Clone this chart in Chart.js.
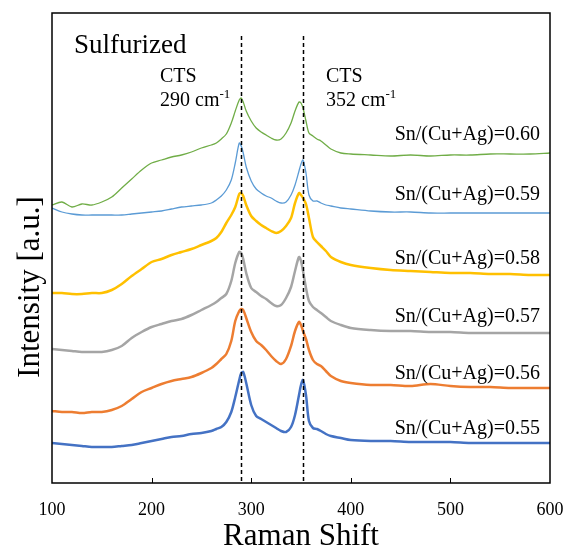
<!DOCTYPE html>
<html>
<head>
<meta charset="utf-8">
<script src="https://cdn.jsdelivr.net/npm/chart.js@4"></script>
<style>
  html, body { margin: 0; padding: 0; background: #fff; }
  #wrap { width: 573px; height: 549px; }
</style>
</head>
<body>
<div id="wrap"><canvas id="ramanChart" width="573" height="549"></canvas></div>
<script>
// Raman spectra - sulfurized samples, stacked with offsets

const shift = [100,110,120,130,140,150,160,170,180,190,200,210,220,230,240,250,260,265,270,275,280,284,288,290,292,295,300,305,310,315,320,325,330,335,340,344,348,350,352,355,358,362,366,370,375,380,390,400,420,440,460,480,500,520,540,560,580,600];

const r055 = [40,39,38,37,36,36,36,37,38,40,42,44,46,47,49,50,52,54,56,61,71,86,103,110,111,100,78,67,64,61,58,55,52,51,56,68,88,98,103,88,62,55,54,52,49,47,45,43,42,42,41,41,41,40,40,40,40,40];
const r056 = [72,71,71,70,71,71,73,77,84,91,95,99,102,104,106,110,115,119,124,129,142,162,172,174,173,165,151,142,138,133,127,122,119,124,137,152,161,158,152,144,133,123,119,117,112,107,102,100,98,98,97,99,97,96,96,95,95,95];
const r057 = [134,133,132,131,131,131,133,137,145,151,156,159,162,164,168,173,178,181,185,189,202,220,231,230,224,210,195,191,187,184,180,177,178,185,196,212,226,222,212,195,182,176,173,170,166,162,158,155,153,152,152,151,151,150,150,150,150,150];
const r058 = [190,190,189,189,190,190,193,199,207,214,221,224,228,231,234,238,242,245,251,260,268,276,289,290,287,278,267,262,258,255,252,250,252,257,265,280,290,288,285,279,265,246,241,237,232,226,221,218,215,213,212,211,210,210,209,209,208,208];
const r059 = [275,271,269,268,268,268,268,268,269,270,271,272,274,276,277,278,280,283,287,293,303,320,340,337,330,316,302,294,290,287,285,282,280,281,288,298,312,319,323,310,288,282,282,280,278,277,275,274,272,271,271,270,270,270,270,270,270,270];
const r060 = [278,281,276,279,278,281,286,295,304,313,320,323,326,328,331,335,338,340,344,349,360,372,383,385,381,372,362,355,351,348,345,343,344,350,360,372,381,380,375,362,350,347,344,342,338,334,330,329,328,327,328,327,328,328,329,329,329,330];

const seriesNames = ['Sn/(Cu+Ag)=0.55','Sn/(Cu+Ag)=0.56','Sn/(Cu+Ag)=0.57','Sn/(Cu+Ag)=0.58','Sn/(Cu+Ag)=0.59','Sn/(Cu+Ag)=0.60'];
const seriesColors = ['#4472C4','#ED7D31','#A5A5A5','#FFC000','#5B9BD5','#70AD47'];
const seriesWidths = [2.5, 2.5, 2.5, 2.5, 1.3, 1.3];
const spectra = [r055, r056, r057, r058, r059, r060];

const xTicks = [100, 200, 300, 400, 500, 600];
const peakShifts = [290, 352];

const SERIF = '"Liberation Serif", "Times New Roman", serif';

// where each sample label sits (in data units)
const labelY = [56, 111, 168, 226, 290, 350];

const overlayPlugin = {
    id: 'overlay',
    afterDatasetsDraw(chart) {
        const { ctx, chartArea: a, scales: { x, y } } = chart;
        ctx.save();

        // dashed peak markers
        ctx.strokeStyle = '#000';
        ctx.lineWidth = 1.5;
        ctx.setLineDash([4, 3]);
        peakShifts.forEach(p => {
            const px = Math.round(x.getPixelForValue(p)) + 0.5;
            ctx.beginPath();
            ctx.moveTo(px, y.getPixelForValue(447));
            ctx.lineTo(px, a.bottom);
            ctx.stroke();
        });
        ctx.setLineDash([]);

        // inside tick marks
        ctx.lineWidth = 1;
        xTicks.slice(1, -1).forEach(t => {
            const px = Math.round(x.getPixelForValue(t)) + 0.5;
            ctx.beginPath();
            ctx.moveTo(px, a.bottom);
            ctx.lineTo(px, a.bottom - 5);
            ctx.stroke();
        });

        // plot frame
        ctx.lineWidth = 1.5;
        ctx.strokeRect(a.left, a.top, a.right - a.left, a.bottom - a.top);

        ctx.fillStyle = '#000';
        ctx.textBaseline = 'alphabetic';

        // title inside plot
        ctx.font = '27px ' + SERIF;
        ctx.textAlign = 'left';
        ctx.fillText('Sulfurized', 74, 53);

        // peak annotations
        const drawPeak = (left, value) => {
            ctx.font = '20px ' + SERIF;
            ctx.textAlign = 'left';
            ctx.fillText('CTS', left, 82);
            const main = value + ' cm';
            ctx.fillText(main, left, 106);
            const w = ctx.measureText(main).width;
            ctx.font = '13px ' + SERIF;
            ctx.fillText('-1', left + w, 98);
        };
        drawPeak(160, '290');
        drawPeak(326, '352');

        // sample labels
        ctx.font = '20px ' + SERIF;
        ctx.textAlign = 'right';
        seriesNames.forEach((name, i) => {
            ctx.fillText(name, 540, y.getPixelForValue(labelY[i]) + 7);
        });

        // y axis title
        ctx.save();
        ctx.translate(31, 287);
        ctx.rotate(-Math.PI / 2);
        ctx.textAlign = 'center';
        ctx.textBaseline = 'middle';
        ctx.font = '31px ' + SERIF;
        ctx.fillText('Intensity [a.u.]', 0, 0);
        ctx.restore();

        ctx.restore();
    }
};

function buildDatasets() {
    return spectra.map((vals, i) => ({
        label: seriesNames[i],
        data: shift.map((s, j) => ({ x: s, y: vals[j] })),
        borderColor: seriesColors[i],
        borderWidth: seriesWidths[i],
        pointRadius: 0,
        fill: false,
        tension: 0.3
    }));
}

const ctx = document.getElementById('ramanChart').getContext('2d');
const chart = new Chart(ctx, {
    type: 'line',
    data: { datasets: buildDatasets() },
    options: {
        responsive: false,
        animation: false,
        layout: { padding: { top: 13, right: 23, left: 0, bottom: 0 } },
        plugins: {
            legend: { display: false },
            tooltip: { enabled: false }
        },
        scales: {
            x: {
                type: 'linear',
                min: 100,
                max: 600,
                afterBuildTicks: scale => { scale.ticks = xTicks.map(v => ({ value: v })); },
                afterFit: scale => {
                    scale.height = 66;
                    scale.paddingLeft = 0;
                    scale.paddingRight = 0;
                },
                grid: { display: false, drawTicks: false },
                border: { display: false },
                ticks: {
                    color: '#000',
                    padding: 16,
                    maxRotation: 0,
                    font: { family: SERIF, size: 18 }
                },
                title: {
                    display: true,
                    text: 'Raman Shift',
                    color: '#000',
                    padding: { top: 0, bottom: 0 },
                    font: { family: SERIF, size: 31, lineHeight: 0.8 }
                }
            },
            y: {
                min: 0,
                max: 470,
                afterFit: scale => { scale.width = 52; },
                grid: { display: false },
                border: { display: false },
                ticks: { display: false }
            }
        }
    },
    plugins: [overlayPlugin]
});
</script>
</body>
</html>
